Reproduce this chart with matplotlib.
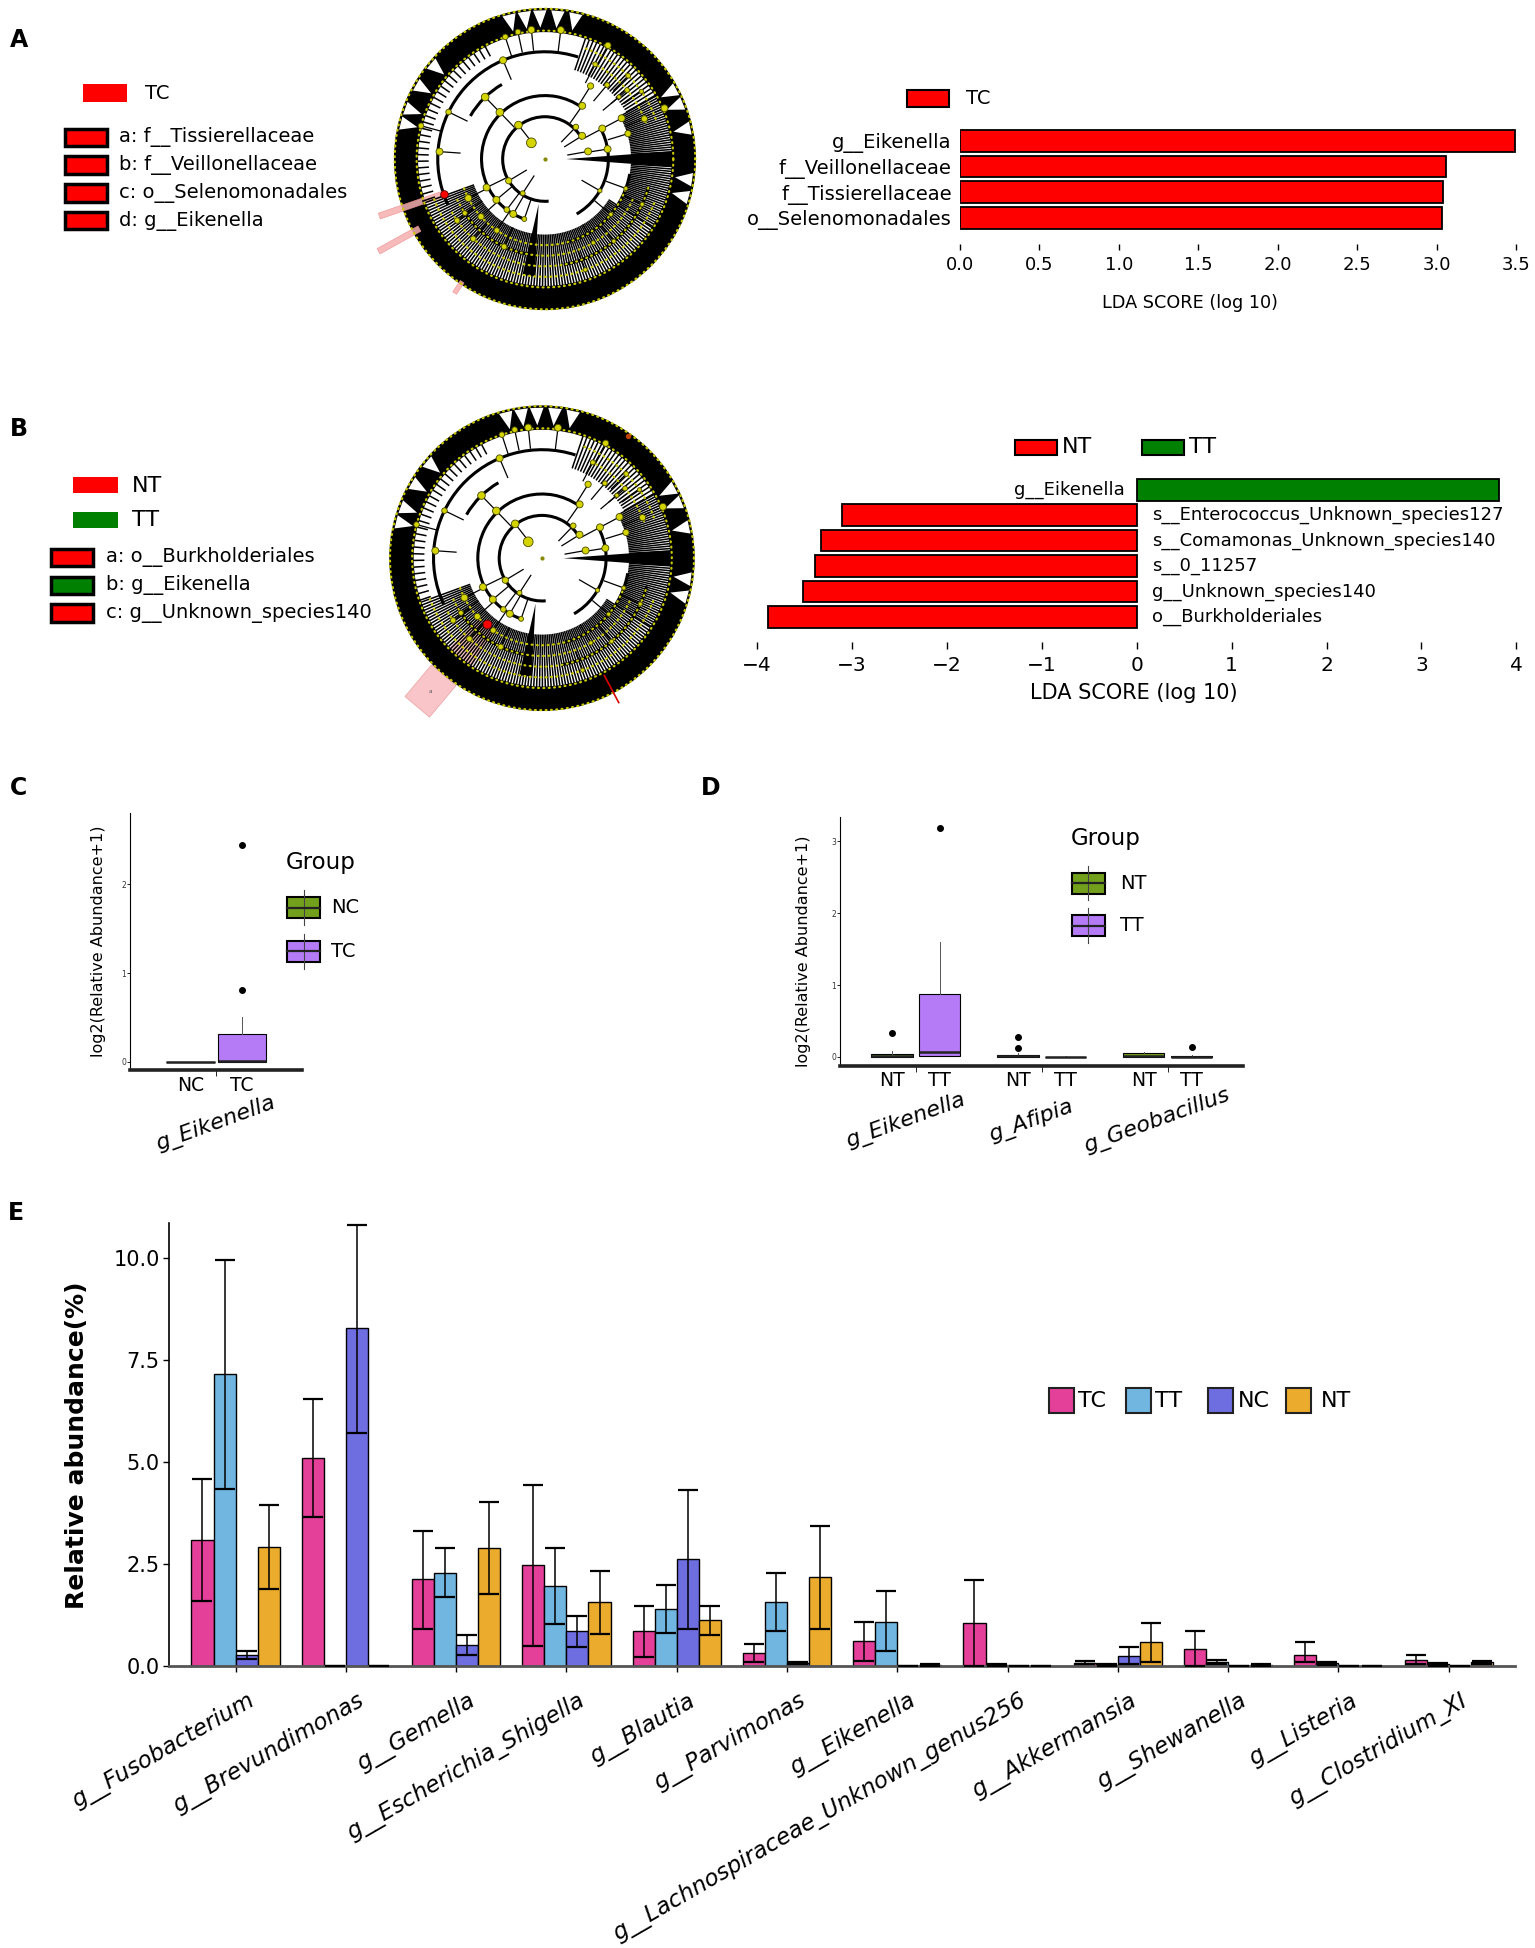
import numpy as np
import matplotlib.pyplot as plt
from matplotlib.patches import Rectangle, Wedge, Polygon, Arc
from matplotlib.collections import LineCollection

plt.rcParams['font.family'] = ['DejaVu Sans']

# ---------------- data ----------------
# A : LEfSe, TC
lda_a_names = ['g__Eikenella', 'f__Veillonellaceae', 'f__Tissierellaceae', 'o__Selenomonadales']
lda_a_vals = [3.49, 3.06, 3.04, 3.03]
clade_a_keys = ['a: f__Tissierellaceae', 'b: f__Veillonellaceae', 'c: o__Selenomonadales', 'd: g__Eikenella']

# B : LEfSe, NT vs TT
lda_b_names = ['g__Eikenella', 's__Enterococcus_Unknown_species127', 's__Comamonas_Unknown_species140',
               's__0_11257', 'g__Unknown_species140', 'o__Burkholderiales']
lda_b_vals = [3.82, -3.10, -3.33, -3.39, -3.51, -3.88]
clade_b_keys = ['a: o__Burkholderiales', 'b: g__Eikenella', 'c: g__Unknown_species140']
clade_b_grp = ['NT', 'TT', 'NT']

# C : boxplot NC vs TC
c_genus = 'g_Eikenella'
c_groups = ['NC', 'TC']
c_q1 = [0.0, 0.0]
c_med = [0.0, 0.01]
c_q3 = [0.0, 0.32]
c_whi = [0.0, 0.51]
c_out = [[], [0.81, 2.44]]

# D : boxplot NT vs TT
d_genera = ['g_Eikenella', 'g_Afipia', 'g_Geobacillus']
d_groups = ['NT', 'TT']
nt_q1 = [0.0, 0.0, 0.0]
nt_med = [0.02, 0.01, 0.02]
nt_q3 = [0.04, 0.03, 0.05]
nt_whi = [0.08, 0.05, 0.07]
nt_out = [[0.33], [0.28, 0.13], []]
tt_q1 = [0.01, 0.0, 0.0]
tt_med = [0.07, 0.0, 0.005]
tt_q3 = [0.87, 0.005, 0.02]
tt_whi = [1.60, 0.01, 0.03]
tt_out = [[3.19], [], [0.14]]

# E : relative abundance
e_genera = ['g__Fusobacterium', 'g__Brevundimonas', 'g__Gemella', 'g__Escherichia_Shigella', 'g__Blautia',
            'g__Parvimonas', 'g__Eikenella', 'g__Lachnospiraceae_Unknown_genus256', 'g__Akkermansia',
            'g__Shewanella', 'g__Listeria', 'g__Clostridium_XI']
e_groups = ['TC', 'TT', 'NC', 'NT']
tc_mean = [3.10, 5.10, 2.14, 2.48, 0.86, 0.34, 0.62, 1.06, 0.09, 0.43, 0.29, 0.16]
tc_low = [1.61, 3.65, 0.92, 0.51, 0.22, 0.12, 0.13, 0.00, 0.05, 0.00, 0.11, 0.07]
tc_high = [4.59, 6.54, 3.32, 4.45, 1.47, 0.55, 1.10, 2.12, 0.13, 0.88, 0.59, 0.29]
tt_mean = [7.15, 0.01, 2.30, 1.97, 1.41, 1.57, 1.10, 0.04, 0.04, 0.10, 0.08, 0.05]
tt_low = [4.34, 0.00, 1.70, 1.04, 0.82, 0.86, 0.37, 0.02, 0.02, 0.05, 0.04, 0.02]
tt_high = [9.96, 0.02, 2.90, 2.90, 2.00, 2.29, 1.84, 0.06, 0.06, 0.16, 0.12, 0.08]
nc_mean = [0.29, 8.28, 0.53, 0.86, 2.62, 0.08, 0.01, 0.00, 0.245, 0.00, 0.00, 0.00]
nc_low = [0.18, 5.71, 0.29, 0.47, 0.92, 0.06, 0.00, 0.00, 0.07, 0.00, 0.00, 0.00]
nc_high = [0.39, 10.82, 0.78, 1.24, 4.31, 0.10, 0.02, 0.00, 0.47, 0.00, 0.00, 0.00]
nt_mean = [2.92, 0.01, 2.91, 1.57, 1.13, 2.19, 0.03, 0.00, 0.59, 0.03, 0.00, 0.12]
nt_low = [1.89, 0.00, 1.78, 0.80, 0.77, 0.92, 0.01, 0.00, 0.11, 0.01, 0.00, 0.07]
nt_high = [3.96, 0.02, 4.02, 2.34, 1.47, 3.43, 0.05, 0.00, 1.06, 0.05, 0.00, 0.14]

e_colors = {'TC': '#e4409a', 'TT': '#70b6e0', 'NC': '#6e6ee0', 'NT': '#ebab2c'}
box_colors = {'NC': '#72a01c', 'NT': '#72a01c', 'TC': '#b57bf6', 'TT': '#b57bf6'}
lefse_col = {'TC': '#ff0000', 'NT': '#ff0000', 'TT': '#008000'}

# cladogram sketch (radius as fraction, angle in degrees)
ring_arcs = [(0.28, 28, 275), (0.42, 55, 252), (0.42, -60, 30), (0.57, 285, 350),
             (0.71, 72, 205), (0.71, 280, 345), (0.64, 210, 265), (0.57, 120, 150)]
dense_sectors = [(-32, 30, 0.57, 1.1), (200, 328, 0.50, 1.3), (30, 72, 0.62, 1.8), (118, 200, 0.77, 3.0)]
solid_spikes = [(0, 3.5, 0.14, 0.86), (262, 3.0, 0.30, 0.78)]
band_notches = [78, 85, 92, 98, 104, 12, 22, 28, 140, 150, 160, 166, 345, 352]
dot_rings = [(0.85, 0, 360), (0.995, 0, 360), (0.57, 200, 340), (0.64, 205, 335),
             (0.71, 210, 345), (0.78, 200, 340), (0.71, 20, 65), (0.78, 20, 70)]
clade_nodes = [
    (0.14, 130, 7), (0.285, 128, 5.5), (0.43, 134, 5.5), (0.57, 134, 5.5), (0.71, 113, 5), (0.70, 176, 5),
    (0.71, 154, 4), (0.85, 165, 4), (0.29, 10, 5), (0.29, 32, 5), (0.295, 46, 4), (0.43, 55, 5),
    (0.43, 28, 5), (0.575, 28, 5), (0.42, 9, 5), (0.575, 17, 4.5), (0.71, 22, 4.5), (0.86, 23, 5),
    (0.57, 58, 4.5), (0.86, 61, 4.5), (0.86, 83, 5), (0.86, 96, 5), (0.86, 102, 4), (0.85, 108, 4),
    (0.28, 211, 4.5), (0.27, 237, 3.5), (0.43, 206, 5), (0.42, 220, 5), (0.42, 233, 4), (0.42, 240, 5),
    (0.42, 251, 3.5), (0.57, 207, 5), (0.57, 222, 4.5), (0.57, 236, 4), (0.64, 245, 4), (0.71, 215, 4),
    (0.71, 228, 4), (0.64, 214, 3.5), (0.42, 330, 3), (0.57, 320, 3), (0.71, 310, 3), (0.57, 340, 3),
    (0.71, 335, 3), (0.64, 300, 3), (0.78, 290, 3), (0.71, 62, 3.5), (0.64, 50, 3.5), (0.78, 45, 3.5),
    (0.71, 40, 3.5), (0.78, 35, 3), (0.64, 40, 3)]

# ---------------- layout helpers ----------------
W, H = 1236, 1568
fig = plt.figure(figsize=(15.35, 19.48), dpi=100)


def axbox(x0, y0, x1, y1):
    a = fig.add_axes([x0 / W, 1 - y1 / H, (x1 - x0) / W, (y1 - y0) / H])
    a.set_facecolor('none')
    return a


page = axbox(0, 0, W, H)
page.set_xlim(0, W)
page.set_ylim(H, 0)
page.axis('off')


def polar(r, a):
    t = np.deg2rad(a)
    return r * np.cos(t), r * np.sin(t)


def strip(a, r0, r1, hw):
    t = np.deg2rad(a)
    u = np.array([np.cos(t), np.sin(t)])
    n = np.array([-np.sin(t), np.cos(t)])
    return [r0 * u + hw * n, r1 * u + hw * n, r1 * u - hw * n, r0 * u - hw * n]


def draw_clado(cx, cy, R, shade=()):
    ax = axbox(cx - 1.35 * R, cy - 1.35 * R, cx + 1.35 * R, cy + 1.35 * R)
    ax.set_xlim(-1.35, 1.35)
    ax.set_ylim(-1.35, 1.35)
    ax.axis('off')
    for a1, a2, r0, r1 in shade:
        ax.add_patch(Wedge((0, 0), r1, a1, a2, width=r1 - r0, facecolor='#f9c4c4', edgecolor='none'))
    segs = []
    for a1, a2, r0, step in dense_sectors:
        for a in np.arange(a1, a2, step):
            segs.append([polar(r0, a), polar(0.86, a)])
    ax.add_collection(LineCollection(segs, colors='black', linewidths=1.1))
    ax.add_patch(Wedge((0, 0), 1.0, 0, 360, width=0.16, facecolor='black', edgecolor='none'))
    for a in band_notches:
        ax.add_patch(Polygon([polar(0.985, a - 2.6), polar(0.87, a), polar(0.985, a + 2.6)],
                             facecolor='white', edgecolor='none'))
    for a, hw, r0, r1 in solid_spikes:
        ax.add_patch(Polygon([polar(r0, a), polar(r1, a - hw), polar(r1, a + hw)],
                             facecolor='black', edgecolor='none'))
    for r, a1, a2 in ring_arcs:
        ax.add_patch(Arc((0, 0), 2 * r, 2 * r, theta1=a1, theta2=a2, color='black', lw=2.2))
    branch = [[polar(r, a), polar(r - 0.14, a)] for r, a, s in clade_nodes if r > 0.2]
    ax.add_collection(LineCollection(branch, colors='black', linewidths=0.9))
    for r, a1, a2 in dot_rings:
        t = np.deg2rad(np.linspace(a1, a2, 400))
        ax.plot(r * np.cos(t), r * np.sin(t), color='#c8c800', lw=1.6, ls=(0, (0.4, 2.0)),
                dash_capstyle='round')
    xs = [polar(r, a)[0] for r, a, s in clade_nodes]
    ys = [polar(r, a)[1] for r, a, s in clade_nodes]
    ss = [s ** 2 for r, a, s in clade_nodes]
    ax.scatter(xs, ys, s=ss, c='#d4d400', edgecolors='#4a4a00', linewidths=0.6, zorder=5)
    ax.plot(0, 0, marker='o', ms=2, color='#888800')
    return ax


# ---------------- panel letters ----------------
for lab, x, y in [('A', 8, 32), ('B', 8, 345), ('C', 8, 634), ('D', 564, 634), ('E', 6, 976)]:
    page.text(x, y, lab, fontsize=17, fontweight='bold', ha='left', va='center')

# ---------------- A ----------------
axA = draw_clado(438.8, 128, 121.6)
for a, r0, r1, hw in [(199, 0.71, 1.16, 0.02), (209, 0.95, 1.26, 0.02), (236, 0.98, 1.07, 0.015)]:
    axA.add_patch(Polygon(strip(a, r0, r1, hw), facecolor='#f7b0b0', edgecolor='#ee9090', lw=0.5, alpha=0.85))
axA.scatter(*polar(0.71, 199), s=30, c='red', edgecolors='#550000', linewidths=0.6, zorder=6)

page.add_patch(Rectangle((67, 68), 35, 14, facecolor='red', edgecolor='none'))
page.text(117, 75, 'TC', fontsize=14, va='center')
for i, lbl in enumerate(clade_a_keys):
    y = 110.5 + 22.4 * i
    page.add_patch(Rectangle((52, y - 7), 34, 14, facecolor='red', edgecolor='black', lw=2.5))
    page.text(96, y, lbl, fontsize=14, va='center')

bA = axbox(773, 100, 1221, 196)
posA = np.arange(len(lda_a_vals))[::-1]
bA.barh(posA, lda_a_vals, height=0.85, color='red', edgecolor='black', linewidth=1.3)
bA.set_xlim(0, 3.5)
bA.set_ylim(-1.0, 3.65)
for s in bA.spines.values():
    s.set_visible(False)
bA.set_yticks(posA, lda_a_names, fontsize=14)
bA.tick_params(axis='y', length=0, pad=6)
bA.set_xticks(np.arange(0, 3.6, 0.5), [f'{v:.1f}' for v in np.arange(0, 3.6, 0.5)], fontsize=13)
bA.tick_params(axis='x', length=4, width=1, direction='out', pad=5)
page.add_patch(Rectangle((730, 72.5), 34, 13.5, facecolor='red', edgecolor='black', lw=1.5))
page.text(778, 79, 'TC', fontsize=14, va='center')
page.text(958, 244, 'LDA SCORE (log 10)', fontsize=12.7, ha='center', va='center')

# ---------------- B ----------------
axB = draw_clado(436.4, 449.3, 123, shade=[(224, 237, 0.56, 0.86)])
axB.add_patch(Polygon(strip(230, 1.0, 1.27, 0.105), facecolor='#f9c5c8', edgecolor='#e8a0a0', lw=0.5))
axB.text(*polar(1.14, 230), 'a', fontsize=4, ha='center', va='center', color='#555555')
axB.scatter(*polar(0.56, 230), s=40, c='red', edgecolors='#550000', linewidths=0.6, zorder=6)
axB.plot(*zip(polar(0.87, 298), polar(1.07, 298)), color='#dd0000', lw=1.2)
axB.scatter(*polar(0.98, 55), s=8, c='#c04000', zorder=6)

page.add_patch(Rectangle((59, 384), 36, 13, facecolor='red', edgecolor='none'))
page.text(106, 391, 'NT', fontsize=16, va='center')
page.add_patch(Rectangle((59, 412), 36, 13, facecolor='#008000', edgecolor='none'))
page.text(106, 418.7, 'TT', fontsize=16, va='center')
for i, (lbl, g) in enumerate(zip(clade_b_keys, clade_b_grp)):
    y = 448.6 + 22.45 * i
    page.add_patch(Rectangle((41, y - 7), 34, 14, facecolor=lefse_col[g], edgecolor='black', lw=2.5))
    page.text(85, y, lbl, fontsize=14, va='center')

bB = axbox(609.5, 382, 1221, 517)
posB = np.arange(len(lda_b_vals))[::-1]
colB = [lefse_col['TT'] if v > 0 else lefse_col['NT'] for v in lda_b_vals]
bB.barh(posB, lda_b_vals, height=0.85, color=colB, edgecolor='black', linewidth=1.3)
for p, v, name in zip(posB, lda_b_vals, lda_b_names):
    if v > 0:
        bB.text(-0.13, p, name, ha='right', va='center', fontsize=13)
    else:
        bB.text(0.16, p, name, ha='left', va='center', fontsize=13)
bB.set_xlim(-4, 4)
bB.set_ylim(-1.0, 5.6)
for s in bB.spines.values():
    s.set_visible(False)
bB.set_yticks([])
bB.set_xticks(range(-4, 5))
bB.tick_params(axis='x', length=5, width=1, direction='out', pad=5, labelsize=14.5)
page.add_patch(Rectangle((817, 354), 34, 12.5, facecolor='red', edgecolor='black', lw=1.5))
page.text(855, 360, 'NT', fontsize=16, va='center')
page.add_patch(Rectangle((919.7, 354), 34, 12.5, facecolor='#008000', edgecolor='black', lw=1.5))
page.text(957.5, 360, 'TT', fontsize=16, va='center')
page.text(913, 558, 'LDA SCORE (log 10)', fontsize=15, ha='center', va='center')


# ---------------- C / D boxplots ----------------
def box_stats(q1, med, q3, whi, out):
    return dict(q1=q1, med=med, q3=q3, whislo=q1, whishi=whi, fliers=out)


def style_box_axes(ax, yt):
    for s in ['top', 'right']:
        ax.spines[s].set_visible(False)
    ax.spines['left'].set_linewidth(0.8)
    ax.spines['bottom'].set_linewidth(2.6)
    ax.spines['bottom'].set_color('#222222')
    ax.set_yticks(yt, [str(v) for v in yt])
    ax.tick_params(axis='y', length=2, width=0.6, labelsize=5.5, labelcolor='#333333', pad=1)
    ax.tick_params(axis='x', length=4, width=0.6, labelbottom=False)


def legend_key(x, y, color):
    page.plot([x + 13.5, x + 13.5], [y - 14, y + 14], color='#444444', lw=0.8)
    page.add_patch(Rectangle((x, y - 8.5), 27, 17, facecolor=color, edgecolor='black', lw=1.5))
    page.plot([x, x + 27], [y, y], color='#222222', lw=1.6)


bprops = dict(patch_artist=True, showcaps=False, widths=0.34,
              boxprops=dict(edgecolor='black', linewidth=0.8),
              medianprops=dict(color='#222222', linewidth=1.8),
              whiskerprops=dict(color='#555555', linewidth=0.7),
              flierprops=dict(marker='o', markerfacecolor='black', markeredgecolor='black', markersize=4))

axC = axbox(105, 654.6, 243, 861.5)
statsC = [box_stats(c_q1[i], c_med[i], c_q3[i], c_whi[i], c_out[i]) for i in range(2)]
bpC = axC.bxp(statsC, positions=[0.82, 1.18], **bprops)
for patch, g in zip(bpC['boxes'], c_groups):
    patch.set_facecolor(box_colors[g])
axC.set_xlim(0.4, 1.6)
axC.set_ylim(-0.094, 2.80)
axC.set_xticks([1])
style_box_axes(axC, [0, 1, 2])
for x, g in zip([0.82, 1.18], c_groups):
    axC.text(x, -0.263, g, ha='center', va='center', fontsize=13.5, clip_on=False)
axC.text(1.0, -0.70, c_genus, ha='center', va='center', rotation=20, fontsize=16,
         style='italic', clip_on=False)
page.text(79, 757.6, 'log2(Relative Abundance+1)', rotation=90, fontsize=11.5, ha='center', va='center')
page.text(258.6, 694.5, 'Group', fontsize=16.5, ha='center', va='center')
legend_key(231, 730.7, box_colors['NC'])
legend_key(231, 765.6, box_colors['TC'])
page.text(266.7, 730.7, 'NC', fontsize=14, va='center')
page.text(266.7, 765.6, 'TC', fontsize=14, va='center')

axD = axbox(676.5, 657.5, 1001, 858.3)
statsD, posD, colD = [], [], []
for i in range(3):
    statsD.append(box_stats(nt_q1[i], nt_med[i], nt_q3[i], nt_whi[i], nt_out[i]))
    statsD.append(box_stats(tt_q1[i], tt_med[i], tt_q3[i], tt_whi[i], tt_out[i]))
    posD += [i + 1 - 0.19, i + 1 + 0.19]
    colD += [box_colors['NT'], box_colors['TT']]
bprops['widths'] = 0.33
bpD = axD.bxp(statsD, positions=posD, **bprops)
for patch, c in zip(bpD['boxes'], colD):
    patch.set_facecolor(c)
axD.set_xlim(0.4, 3.6)
axD.set_ylim(-0.13, 3.34)
axD.set_xticks([1, 2, 3])
style_box_axes(axD, [0, 1, 2, 3])
for x, g in zip(posD, d_groups * 3):
    axD.text(x, -0.326, g, ha='center', va='center', fontsize=13.5, clip_on=False)
for i, name in enumerate(d_genera):
    axD.text(i + 1 - 0.08, -0.89, name, ha='center', va='center', rotation=20, fontsize=16,
             style='italic', clip_on=False)
page.text(647, 765.4, 'log2(Relative Abundance+1)', rotation=90, fontsize=11.5, ha='center', va='center')
page.text(890, 675, 'Group', fontsize=16.5, ha='center', va='center')
legend_key(862.8, 710.8, box_colors['NT'])
legend_key(862.8, 745, box_colors['TT'])
page.text(902, 710.8, 'NT', fontsize=14, va='center')
page.text(902, 745, 'TT', fontsize=14, va='center')

# ---------------- E ----------------
axE = axbox(136.4, 984.7, 1219.8, 1341.4)
pos = np.arange(1, len(e_genera) + 1)
series = {'TC': (tc_mean, tc_low, tc_high), 'TT': (tt_mean, tt_low, tt_high),
          'NC': (nc_mean, nc_low, nc_high), 'NT': (nt_mean, nt_low, nt_high)}
for g, off in zip(e_groups, [-0.3, -0.1, 0.1, 0.3]):
    m, lo, hi = (np.array(v) for v in series[g])
    axE.bar(pos + off, m, width=0.2, color=e_colors[g], edgecolor='black', linewidth=1.0, zorder=2)
    axE.errorbar(pos + off, m, yerr=[m - lo, hi - m], fmt='none', ecolor='black', elinewidth=1.1,
                 capsize=7, capthick=1.6, zorder=3)
axE.set_xlim(0.4, 12.6)
axE.set_ylim(0, 10.85)
for s in ['top', 'right']:
    axE.spines[s].set_visible(False)
axE.spines['left'].set_linewidth(1.2)
axE.spines['bottom'].set_linewidth(2.0)
axE.spines['bottom'].set_color('#555555')
axE.set_yticks([0, 2.5, 5, 7.5, 10], ['0.0', '2.5', '5.0', '7.5', '10.0'])
axE.tick_params(axis='y', length=4, width=1, labelsize=15, pad=3)
axE.set_xticks(pos)
axE.tick_params(axis='x', length=4, width=1, labelbottom=False)
for p, name in zip(pos, e_genera):
    axE.text(p + 0.1, -0.55, name, rotation=30, ha='right', va='top', rotation_mode='anchor',
             fontsize=16.5, style='italic', clip_on=False)
page.text(61.6, 1163.5, 'Relative abundance(%)', rotation=90, fontsize=18, fontweight='bold',
          ha='center', va='center')
for g, bx, tx in zip(e_groups, [845, 906.6, 972.6, 1035.4], [868, 930, 996.8, 1063.6]):
    page.add_patch(Rectangle((bx, 1117.5), 20, 20.2, facecolor=e_colors[g], edgecolor='#222222', lw=1.5))
    page.text(tx, 1127.6, g, fontsize=16, va='center')

fig.savefig('out.png', dpi=100)
